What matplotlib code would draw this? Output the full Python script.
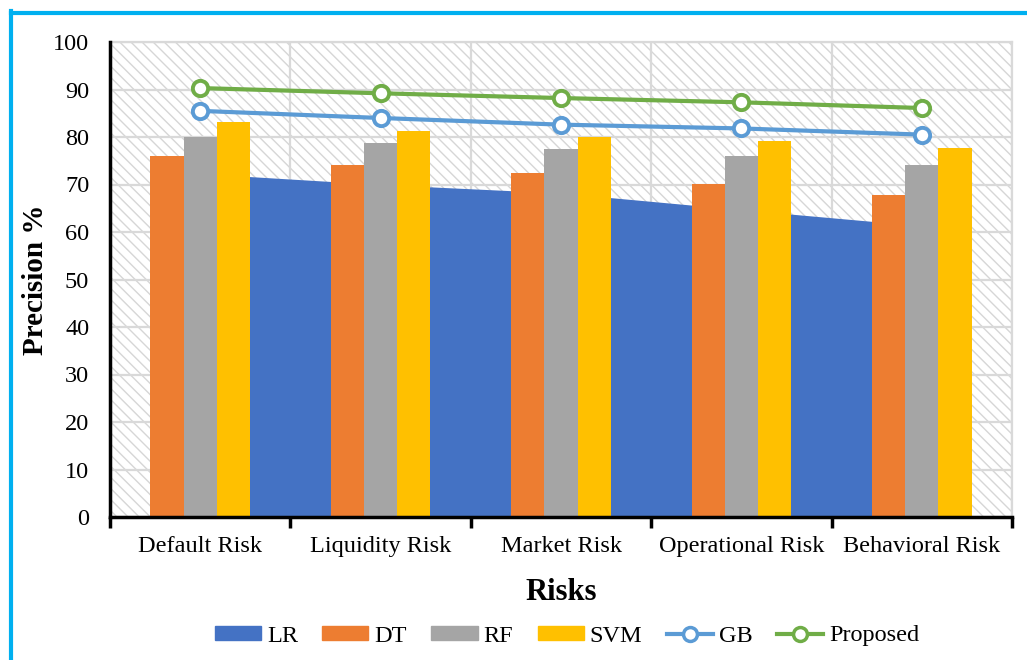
import numpy as np
import matplotlib
matplotlib.use("Agg")
import matplotlib.pyplot as plt
from matplotlib.patches import Rectangle, Patch
from matplotlib.lines import Line2D

plt.rcParams['font.family'] = ['Liberation Serif', 'DejaVu Serif']
plt.rcParams['hatch.color'] = '#d6d6d6'
plt.rcParams['hatch.linewidth'] = 1.0

risks = ['Default Risk', 'Liquidity Risk', 'Market Risk', 'Operational Risk', 'Behavioral Risk']
lr = [72.3, 70.0, 68.2, 64.7, 61.3]
dt = [75.9, 74.2, 72.5, 70.1, 67.8]
rf = [80.1, 78.7, 77.4, 75.9, 74.2]
svm = [83.1, 81.3, 80.0, 79.2, 77.6]
gb = [85.5, 84.0, 82.6, 81.8, 80.5]
proposed = [90.3, 89.2, 88.2, 87.3, 86.1]

c_lr, c_dt, c_rf, c_svm = '#4472C4', '#ED7D31', '#A5A5A5', '#FFC000'
c_gb, c_prop = '#5B9BD5', '#70AD47'

fig = plt.figure(figsize=(10.27, 6.6), dpi=100)
ax = fig.add_axes([110/1027, 1-517/660, 902/1027, 475/660])

x = np.arange(len(risks))
w = 0.184

# hatched plot area
ax.add_patch(Rectangle((0, 0), 1, 1, transform=ax.transAxes, facecolor='white',
                       hatch='\\\\\\', edgecolor='#d6d6d6', linewidth=0, zorder=0))

ax.fill_between(x, lr, 0, color=c_lr, linewidth=0, zorder=2)
ax.bar(x - w, dt, w, color=c_dt, zorder=3)
ax.bar(x, rf, w, color=c_rf, zorder=3)
ax.bar(x + w, svm, w, color=c_svm, zorder=3)
ax.plot(x, gb, color=c_gb, lw=3, marker='o', ms=11, mfc='white', mec=c_gb, mew=2.8, zorder=4)
ax.plot(x, proposed, color=c_prop, lw=3, marker='o', ms=11, mfc='white', mec=c_prop, mew=2.8, zorder=4)

ax.set_xlim(-0.5, 4.5)
ax.set_ylim(0, 100)
ax.set_yticks(np.arange(0, 101, 10))
ax.set_xticks(np.arange(-0.5, 4.6, 1))
ax.set_xticklabels([])
ax.set_xticks(x, minor=True)
ax.set_xticklabels(risks, minor=True, fontsize=17.5)
ax.tick_params(axis='x', which='major', length=8, width=2.5, direction='out')
ax.tick_params(axis='x', which='minor', length=0, pad=14)
ax.tick_params(axis='y', length=0, pad=15, labelsize=17.5)

ax.grid(True, which='major', color='#d9d9d9', lw=1.6, zorder=1)
ax.set_axisbelow(True)
for s in ['top', 'right']:
    ax.spines[s].set_color('#d9d9d9')
    ax.spines[s].set_linewidth(1.6)
for s in ['left', 'bottom']:
    ax.spines[s].set_color('black')
    ax.spines[s].set_linewidth(2.5)
    ax.spines[s].set_zorder(5)

ax.set_ylabel('Precision %', fontsize=21, fontweight='bold', labelpad=3)
ax.set_xlabel('Risks', fontsize=22, fontweight='bold', labelpad=15)

handles = [Patch(color=c_lr), Patch(color=c_dt), Patch(color=c_rf), Patch(color=c_svm),
           Line2D([], [], color=c_gb, lw=3, marker='o', ms=10, mfc='white', mec=c_gb, mew=2.5),
           Line2D([], [], color=c_prop, lw=3, marker='o', ms=10, mfc='white', mec=c_prop, mew=2.5)]
fig.legend(handles, ['LR', 'DT', 'RF', 'SVM', 'GB', 'Proposed'], loc='center',
           bbox_to_anchor=(567/1027, 1-636/660), ncol=6, frameon=False, fontsize=17.5,
           handlelength=1.9, handleheight=0.5, handletextpad=0.25, columnspacing=1.0)

# cyan frame (left and top edges)
fig.add_artist(Line2D([10.5/1027, 10.5/1027], [0, 1-10.5/660], color='#00B0F0', lw=3,
                      transform=fig.transFigure, solid_capstyle='projecting'))
fig.add_artist(Line2D([10.5/1027, 1], [1-12.5/660, 1-12.5/660], color='#00B0F0', lw=3,
                      transform=fig.transFigure, solid_capstyle='projecting'))

fig.savefig('out.png', dpi=100)
